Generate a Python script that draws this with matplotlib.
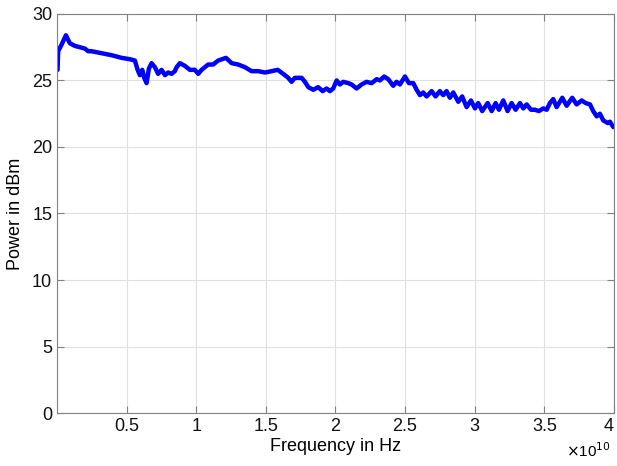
import matplotlib
matplotlib.use("Agg")
import matplotlib.pyplot as plt
from matplotlib.ticker import FuncFormatter, MultipleLocator

plt.rcParams['font.family'] = ['Liberation Sans', 'DejaVu Sans']

# curve (frequency in GHz, power in dBm), 10 points per row
freq_ghz = [0.05, 0.09, 0.34, 0.65, 0.93, 1.29, 1.65, 2.01, 2.25, 2.49,
            2.97, 3.45, 3.93, 4.65, 5.24, 5.60, 5.80, 5.96, 6.13, 6.27,
            6.44, 6.61, 6.80, 7.04, 7.27, 7.52, 7.76, 7.99, 8.24, 8.47,
            8.60, 8.83, 9.19, 9.55, 9.91, 10.15, 10.39, 10.86, 11.22, 11.58,
            12.14, 12.55, 13.02, 13.50, 13.98, 14.46, 14.94, 15.42, 15.85, 16.25,
            16.61, 16.85, 17.09, 17.57, 17.81, 18.05, 18.41, 18.76, 19.08, 19.37,
            19.60, 19.84, 20.09, 20.32, 20.56, 20.92, 21.16, 21.52, 21.88, 22.24,
            22.60, 22.96, 23.19, 23.50, 23.79, 24.15, 24.39, 24.63, 24.99, 25.28,
            25.59, 25.83, 26.07, 26.30, 26.55, 26.91, 27.19, 27.50, 27.74, 27.98,
            28.22, 28.46, 28.82, 29.10, 29.42, 29.73, 30.02, 30.25, 30.54, 30.93,
            31.22, 31.50, 31.74, 32.05, 32.36, 32.65, 32.94, 33.25, 33.49, 33.73,
            34.04, 34.33, 34.61, 34.92, 35.17, 35.40, 35.64, 35.88, 36.29, 36.60,
            37.00, 37.32, 37.68, 37.97, 38.28, 38.51, 38.76, 38.99, 39.23, 39.55,
            39.71, 39.95]
power_dbm = [25.8, 27.2, 27.7, 28.4, 27.8, 27.6, 27.5, 27.4, 27.2, 27.2,
             27.1, 27.0, 26.9, 26.7, 26.6, 26.5, 25.8, 25.4, 25.8, 25.2,
             24.8, 25.9, 26.3, 26.0, 25.5, 25.8, 25.4, 25.6, 25.5, 25.7,
             26.0, 26.3, 26.1, 25.8, 25.8, 25.5, 25.8, 26.2, 26.2, 26.5,
             26.7, 26.3, 26.2, 26.0, 25.7, 25.7, 25.6, 25.7, 25.8, 25.5,
             25.2, 24.9, 25.2, 25.2, 24.9, 24.5, 24.3, 24.5, 24.2, 24.4,
             24.2, 24.4, 25.0, 24.7, 24.9, 24.8, 24.7, 24.4, 24.7, 24.9,
             24.8, 25.1, 25.0, 25.3, 25.1, 24.6, 24.9, 24.7, 25.3, 24.8,
             24.8, 24.3, 23.9, 24.1, 23.8, 24.2, 23.8, 24.2, 23.9, 24.2,
             23.7, 24.1, 23.4, 23.8, 23.0, 23.5, 22.9, 23.3, 22.7, 23.3,
             22.7, 23.3, 22.8, 23.5, 22.7, 23.3, 22.8, 23.3, 22.9, 23.2,
             22.8, 22.8, 22.7, 22.9, 22.8, 23.3, 23.6, 23.0, 23.7, 23.1,
             23.7, 23.2, 23.5, 23.3, 23.2, 22.7, 22.3, 22.5, 22.0, 21.8,
             21.9, 21.5]

freq_hz = [f * 1e9 for f in freq_ghz]

fig = plt.figure(figsize=(6.17, 4.66), dpi=100)
ax = fig.add_axes([0.0924, 0.1137, 0.9027, 0.8563])

ax.plot(freq_hz, power_dbm, color='#0000ff', linewidth=3.2,
        solid_joinstyle='round', solid_capstyle='round')

ax.set_xlim(1e7, 4e10)
ax.set_ylim(0, 30)
ax.xaxis.set_major_locator(MultipleLocator(0.5e10))
ax.yaxis.set_major_locator(MultipleLocator(5))
ax.xaxis.set_major_formatter(FuncFormatter(lambda v, p: f"{v / 1e10:g}" if v > 1e8 else ""))

ax.grid(True, color='#e0e0e0', linewidth=0.8)
ax.set_axisbelow(True)
for s in ax.spines.values():
    s.set_color('#808080')
    s.set_linewidth(0.8)
ax.tick_params(direction='in', length=5, color='#808080', labelsize=13,
               top=True, right=True, labelcolor='#111111')

ax.set_xlabel("Frequency in Hz", fontsize=13, labelpad=2)
ax.set_ylabel("Power in dBm", fontsize=13, labelpad=6)
ax.text(0.995, -0.072, r"$\times$10$^{10}$", transform=ax.transAxes,
        ha='right', va='top', fontsize=11)

# keep the last tick label "4" inside the figure
fig.canvas.draw()
for t in ax.xaxis.get_major_ticks():
    if abs(t.get_loc() - 4e10) < 1e8:
        t.label1.set_horizontalalignment('right')
        t.label1.set_x(t.get_loc())

fig.savefig("out.png", dpi=100)
